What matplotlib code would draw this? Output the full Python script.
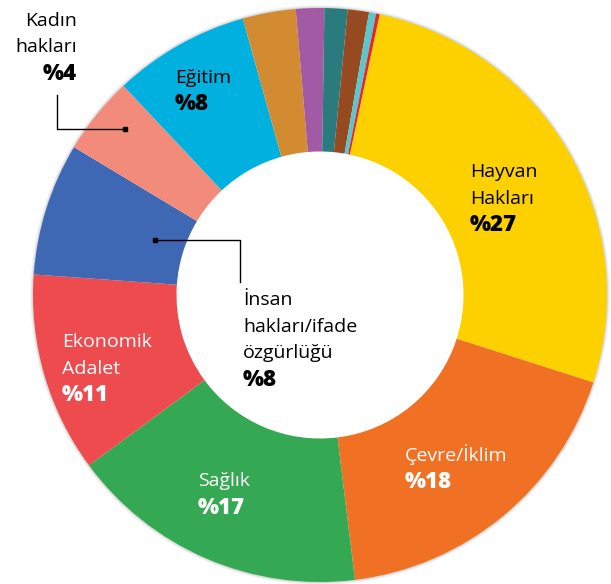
import matplotlib.pyplot as plt
from matplotlib.patches import Wedge

# slices in clockwise order, starting at the top (right of 12 o'clock)
categories = ["Hayvan Hakları", "Çevre/İklim", "Sağlık", "Ekonomik Adalet",
              "İnsan hakları/ifade özgürlüğü", "Kadın hakları", "Eğitim",
              "Diğer 1", "Diğer 2", "Diğer 3", "Diğer 4", "Diğer 5", "Diğer 6"]
shares = [26.7, 18.2, 16.9, 11.3, 7.5, 4.4, 7.7, 3.0, 1.6, 1.3, 1.2, 0.4, 0.2]
colors = ["#FDD000", "#F07124", "#35A853", "#EE4B4F", "#3F68B4", "#F38B7A",
          "#00B1DF", "#D38B31", "#A15AA3", "#2A7B7E", "#954A22", "#5BC6CC",
          "#E02A2A"]

W, H = 611, 584
cx, cy, R = 320, H - 295, 287

fig = plt.figure(figsize=(W / 100, H / 100), dpi=100)
ax = fig.add_axes([0, 0, 1, 1])

# faint shadow just outside the ring
for i, a in enumerate([0.05, 0.08, 0.12]):
    ax.add_patch(Wedge((cx, cy), R + 3 - i, 0, 360, width=10,
                       color="#555555", alpha=a, lw=0))

ax.pie(shares, colors=colors, startangle=78, counterclock=False,
       center=(cx, cy), radius=R, frame=True,
       wedgeprops=dict(width=R * 0.5, linewidth=0))
ax.set_xlim(0, W)
ax.set_ylim(0, H)
ax.set_aspect("equal")
ax.axis("off")

font = "Open Sans"


def label(x, y, lines, pct, color, ha="left"):
    step = 26.5
    for k, s in enumerate(lines):
        ax.text(x, H - y - k * step, s, color=color, fontsize=14, ha=ha,
                va="center", family=font)
    ax.text(x, H - y - len(lines) * step, pct, color=color, fontsize=16,
            ha=ha, va="center", family=font, weight="heavy")


label(470, 172, ["Hayvan", "Hakları"], "%27", "black")
label(405, 455, ["Çevre/İklim"], "%18", "white")
label(198, 481, ["Sağlık"], "%17", "white")
label(62, 342, ["Ekonomik", "Adalet"], "%11", "white")
label(175, 78, ["Eğitim"], "%8", "black")
label(77, 21, ["Kadın", "hakları"], "%4", "black", ha="right")
label(243, 300, ["İnsan", "hakları/ifade", "özgürlüğü"], "%8", "black")

# leader lines
ax.plot([57, 57, 125], [H - 95, H - 129, H - 129], color="black", lw=1)
ax.plot([125], [H - 129], "s", color="black", ms=2.5)
ax.plot([155, 240, 240], [H - 240, H - 240, H - 282], color="black", lw=1)
ax.plot([155], [H - 240], "s", color="black", ms=2.5)

fig.savefig("out.png", dpi=100)
